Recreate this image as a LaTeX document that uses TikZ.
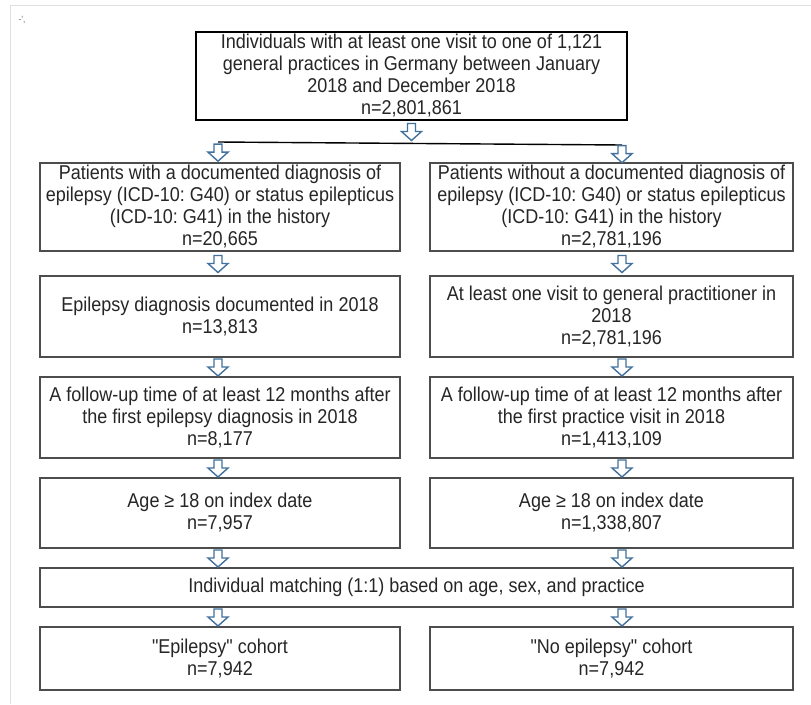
\documentclass[tikz,border=0pt]{standalone}
\usepackage{fontspec}
\setmainfont{Liberation Sans}[FakeStretch=0.9]
\newfontfamily\boxfont{Liberation Sans}[FakeStretch=0.9]
\usetikzlibrary{calc}
\definecolor{arrowblue}{HTML}{41719C}
\definecolor{boxgray}{HTML}{4D4D4D}
\frenchspacing
\begin{document}
\begin{tikzpicture}[x=1pt,y=-1pt,
  box/.style={draw=boxgray, line width=1.3pt, fill=white, inner sep=0pt, align=center,
    font=\boxfont\fontsize{20}{22}\selectfont, text=black!85},
  darrow/.pic={\draw[arrowblue, line width=1.4pt, fill=white, line join=miter]
    (-4,-8) -- (4,-8) -- (4,0) -- (10,0) -- (0,9) -- (-10,0) -- (-4,0) -- cycle;}
]
\useasboundingbox (0,0) rectangle (811,704);
\fill[white] (0,0) rectangle (811,704);
\draw[black!12, line width=0.8pt] (10,704) -- (10,5) -- (811,5);
\node[font=\fontsize{9}{9}\selectfont, text=black!60, inner sep=0pt] (mark) at (22,20) {-',};

% top
\node[box, draw=black, line width=2pt, minimum width=431, minimum height=88] (top) at (411.5,76)
  {Individuals with at least one visit to one of 1,121\\general practices in Germany between January\\2018 and December 2018\\n=2,801,861};

% left column
\node[box, minimum width=360, minimum height=88] (L1) at (220,207)
  {Patients with a documented diagnosis of\\epilepsy (ICD-10: G40) or status epilepticus\\(ICD-10: G41) in the history\\n=20,665};
\node[box, minimum width=360, minimum height=81] (L2) at (220,316.5)
  {Epilepsy diagnosis documented in 2018\\n=13,813};
\node[box, minimum width=360, minimum height=81] (L3) at (220,417.5)
  {A follow-up time of at least 12 months after\\the first epilepsy diagnosis in 2018\\n=8,177};
\node[box, minimum width=360, minimum height=70] (L4) at (220,513)
  {Age ≥ 18 on index date\\n=7,957};
\node[box, minimum width=360, minimum height=63] (L6) at (220,658.5)
  {"Epilepsy" cohort\\n=7,942};

% right column
\node[box, minimum width=363, minimum height=88] (R1) at (611.5,207)
  {Patients without a documented diagnosis of\\epilepsy (ICD-10: G40) or status epilepticus\\(ICD-10: G41) in the history\\n=2,781,196};
\node[box, minimum width=363, minimum height=81] (R2) at (611.5,316.5)
  {At least one visit to general practitioner in\\2018\\n=2,781,196};
\node[box, minimum width=363, minimum height=81] (R3) at (611.5,417.5)
  {A follow-up time of at least 12 months after\\the first practice visit in 2018\\n=1,413,109};
\node[box, minimum width=363, minimum height=70] (R4) at (611.5,513)
  {Age ≥ 18 on index date\\n=1,338,807};
\node[box, minimum width=363, minimum height=63] (R6) at (611.5,658.5)
  {"No epilepsy" cohort\\n=7,942};

% matching
\node[box, minimum width=753, minimum height=39] (M) at (416.5,587.5)
  {Individual matching (1:1) based on age, sex, and practice};

% split line
\coordinate (xl) at (218,0);
\coordinate (xr) at (622,0);
\coordinate (hl) at (218,142);
\coordinate (hr) at (622,145);
\draw[black, line width=1.4pt] (hl) -- (hr);

% arrows
\pic at ($(top.south)!0.5!(top.south |- hl)$) {darrow};
\pic at ($(hl)!0.5!(L1.north -| hl)$) {darrow};
\pic at ($(hr)!0.5!(R1.north -| hr)$) {darrow};
\foreach \a/\b in {L1/L2,L2/L3,L3/L4,L4/M,M/L6}{
  \pic at ($(\a.south -| xl)!0.5!(\b.north -| xl)$) {darrow};
}
\foreach \a/\b in {R1/R2,R2/R3,R3/R4,R4/M,M/R6}{
  \pic at ($(\a.south -| xr)!0.5!(\b.north -| xr)$) {darrow};
}
\end{tikzpicture}
\end{document}
